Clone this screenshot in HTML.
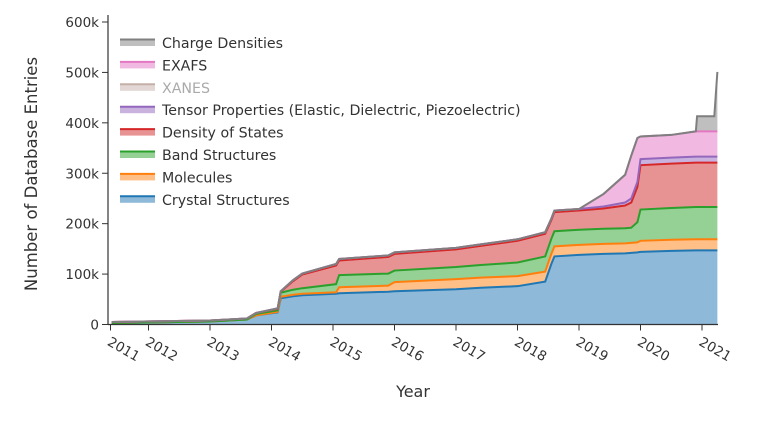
<!DOCTYPE html>
<html><head><meta charset="utf-8">
<style>
html,body{margin:0;padding:0;background:#fff;}
svg{display:block;font-family:"DejaVu Sans","Liberation Sans",sans-serif;}
</style></head>
<body>
<svg id="chart" width="769" height="431" viewBox="0 0 769 431"></svg>
<script>
const times = [2011.4,2013.0,2013.6,2013.75,2014.1,2014.15,2014.35,2014.5,2015.05,2015.1,2015.9,2016.0,2017.0,2017.4,2018.0,2018.45,2018.55,2018.6,2019.0,2019.4,2019.75,2019.85,2019.95,2020.0,2020.5,2020.9,2020.92,2021.2,2021.25];
const crystal = [3,6,10,18,24,52,56,58,61,62,65,66,70,73,76,85,120,135,138,140,141,142,143,144,146,147,147,147,147];
const molecules = [0,0,0,0,1,3,3,3,3,12,12,18,20,20,20,20,20,20,20,20,20,20,20,22,22,22,22,22,22];
const band = [0,0,0,3,3,8,10,11,16,24,24,23,24,25,27,30,30,30,30,30,30,30,40,62,63,64,64,64,64];
const dos = [2,2,2,2,3,2,17,27,37,29,33,33,35,38,43,45,37,38,38,40,45,50,70,88,88,88,88,88,88];
const tensor = [0,0,0,0,1,1,2,2,3,3,3,3,3,3,3,3,3,3,3,4,6,8,10,12,12,12,12,12,12];
const xanes = [0,0,0,0,0,0,0,0,0,0,0,0,0,0,0,0,0,0,0,0,0,0,0,0,0,0,0,0,0];
const exafs = [0,0,0,0,0,0,0,0,0,0,0,0,0,0,0,0,0,0,0,25,55,85,87,45,45,50,50,50,50];
const charge = [0,0,0,0,0,0,0,0,0,0,0,0,0,0,0,0,0,0,0,0,0,0,0,0,0,0,30,30,118];
const yTicks = [0,100,200,300,400,500,600];
const yTickLabels = ["0","100k","200k","300k","400k","500k","600k"];
const xTicks = [2011.4,2012,2013,2014,2015,2016,2017,2018,2019,2020,2021];
const xTickLabels = ["2011","2012","2013","2014","2015","2016","2017","2018","2019","2020","2021"];
const seriesNames = ["Crystal Structures","Molecules","Band Structures","Density of States","Tensor Properties (Elastic, Dielectric, Piezoelectric)","XANES","EXAFS","Charge Densities"];
const seriesKeys = ["crystal-structures","molecules","band-structures","density-of-states","tensor-properties","xanes","exafs","charge-densities"];

const series=[crystal,molecules,band,dos,tensor,xanes,exafs,charge];
const strokes=["#1f77b4","#ff7f0e","#2ca02c","#d62728","#9467bd","#c5b0a8","#e377c2","#7f7f7f"];
const fills=["#8fb9d9","#ffbf87","#95d095","#e89393","#c9b3de","#e2d7d4","#f1b9e1","#bfbfbf"];
const NS="http://www.w3.org/2000/svg";
const svg=document.getElementById('chart');
const X0=108,X1=718,Y0=324.5,Y1=22;
function xs(t){return 148.5+(t-2012)*61.5;}
function ys(v){return Y0-(v/600)*(Y0-Y1);}
function mk(tag,attrs){const e=document.createElementNS(NS,tag);for(const k in attrs)e.setAttribute(k,attrs[k]);svg.appendChild(e);return e;}

const cum=[];let base=times.map(()=>0);
series.forEach((s,i)=>{const top=s.map((v,j)=>base[j]+v);cum.push({lo:base,hi:top});base=top;});
cum.forEach((c,i)=>{
  if(i===5) return;
  let d='M'+times.map((t,j)=>xs(t)+','+ys(c.hi[j])).join('L');
  for(let j=times.length-1;j>=0;j--) d+='L'+xs(times[j])+','+ys(c.lo[j]);
  d+='Z';
  const a=mk('path',{d:d,fill:fills[i],stroke:'none'});
  
  
});
cum.forEach((c,i)=>{
  if(i===5) return;
  const d='M'+times.map((t,j)=>xs(t)+','+ys(c.hi[j])).join('L');
  const l=mk('path',{d:d,fill:'none',stroke:strokes[i],'stroke-width':2});
  
  
});
const ya=mk('line',{x1:X0,y1:Y1-7,x2:X0,y2:Y0,stroke:'#333','stroke-width':1.2});


const xa=mk('line',{x1:X0,y1:Y0,x2:X1,y2:Y0,stroke:'#333','stroke-width':1.2});


yTicks.forEach((v,i)=>{
  mk('line',{x1:X0-6,y1:ys(v),x2:X0,y2:ys(v),stroke:'#333'});
  const t=mk('text',{x:X0-9,y:ys(v)+5,'text-anchor':'end','font-size':13.5,fill:'#333'});
  t.textContent=yTickLabels[i];
  
  
});
xTicks.forEach((v,i)=>{
  const x=(i===0)?110.5:xs(v);
  mk('line',{x1:x,y1:Y0,x2:x,y2:Y0+6,stroke:'#333'});
  const t=mk('text',{x:x-4,y:Y0+20,'font-size':13.5,fill:'#333',transform:'rotate(30 '+(x-4)+' '+(Y0+20)+')'});
  t.textContent=xTickLabels[i];
  
  
});
const yt=mk('text',{x:37,y:174,'text-anchor':'middle','font-size':16.5,fill:'#333',transform:'rotate(-90 37 174)'});
yt.textContent='Number of Database Entries';


const xt=mk('text',{x:413,y:397,'text-anchor':'middle','font-size':16,fill:'#333'});
xt.textContent='Year';


for(let k=0;k<8;k++){
  const i=7-k; const y=43+k*22.4;
  const g=document.createElementNS(NS,'g');svg.appendChild(g);
  
  
  const r=document.createElementNS(NS,'rect');
  r.setAttribute('x',120);r.setAttribute('y',y-4);r.setAttribute('width',35);r.setAttribute('height',7);
  r.setAttribute('fill',fills[i]);g.appendChild(r);
  const l=document.createElementNS(NS,'line');
  l.setAttribute('x1',120);l.setAttribute('x2',155);l.setAttribute('y1',y-3.5);l.setAttribute('y2',y-3.5);
  l.setAttribute('stroke',strokes[i]);l.setAttribute('stroke-width',2);g.appendChild(l);
  const t=document.createElementNS(NS,'text');
  t.setAttribute('x',162);t.setAttribute('y',y+5);t.setAttribute('font-size',14.2);
  t.setAttribute('fill',i===5?'#aaa':'#333');t.textContent=seriesNames[i];g.appendChild(t);
}
</script>
</body></html>
